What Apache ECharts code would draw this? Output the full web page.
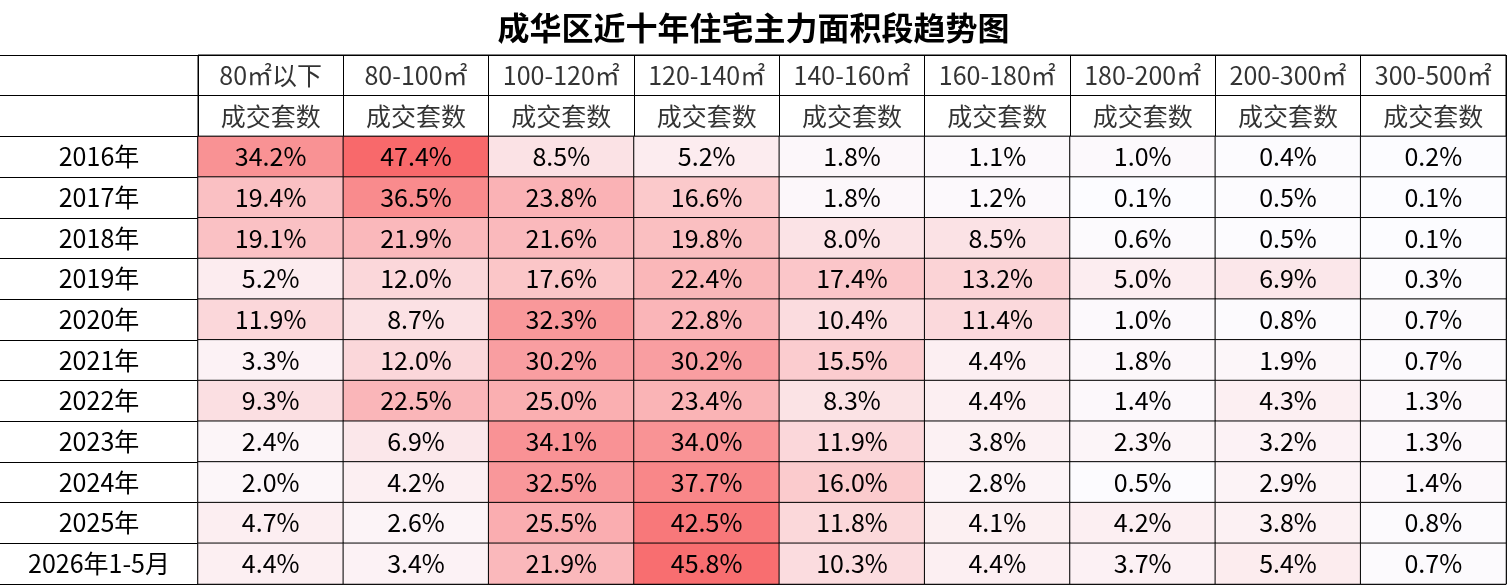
<!DOCTYPE html>
<html>
<head>
<meta charset="utf-8">
<script src="https://cdn.jsdelivr.net/npm/echarts@6/dist/echarts.min.js"></script>
<style>html,body{margin:0;padding:0;background:#fff}#main{width:1507px;height:585px}</style>
</head>
<body>
<div id="main"></div>
<script>
// 面积段
var ranges = ['80㎡以下', '80-100㎡', '100-120㎡', '120-140㎡', '140-160㎡', '160-180㎡', '180-200㎡', '200-300㎡', '300-500㎡'];
var subHead = '成交套数';
var years = ['2016年', '2017年', '2018年', '2019年', '2020年', '2021年', '2022年', '2023年', '2024年', '2025年', '2026年1-5月'];
// 每行对应一个年份
var values = [
    [34.2, 47.4, 8.5, 5.2, 1.8, 1.1, 1.0, 0.4, 0.2],
    [19.4, 36.5, 23.8, 16.6, 1.8, 1.2, 0.1, 0.5, 0.1],
    [19.1, 21.9, 21.6, 19.8, 8.0, 8.5, 0.6, 0.5, 0.1],
    [5.2, 12.0, 17.6, 22.4, 17.4, 13.2, 5.0, 6.9, 0.3],
    [11.9, 8.7, 32.3, 22.8, 10.4, 11.4, 1.0, 0.8, 0.7],
    [3.3, 12.0, 30.2, 30.2, 15.5, 4.4, 1.8, 1.9, 0.7],
    [9.3, 22.5, 25.0, 23.4, 8.3, 4.4, 1.4, 4.3, 1.3],
    [2.4, 6.9, 34.1, 34.0, 11.9, 3.8, 2.3, 3.2, 1.3],
    [2.0, 4.2, 32.5, 37.7, 16.0, 2.8, 0.5, 2.9, 1.4],
    [4.7, 2.6, 25.5, 42.5, 11.8, 4.1, 4.2, 3.8, 0.8],
    [4.4, 3.4, 21.9, 45.8, 10.3, 4.4, 3.7, 5.4, 0.7]
];

var rows = ['h1', 'h2'].concat(years);
var cells = [];
values.forEach(function (row, i) {
    row.forEach(function (v, j) {
        cells.push([j, years[i], v]);
    });
});
var head1 = ranges.map(function (r, j) { return [j, 'h1', r]; });
var head2 = ranges.map(function (r, j) { return [j, 'h2', subHead]; });

var font = '"Noto Sans CJK SC", sans-serif';
var chart = echarts.init(document.getElementById('main'));
chart.setOption({
    animation: false,
    textStyle: { fontFamily: font },
    title: {
        text: '成华区近十年住宅主力面积段趋势图',
        left: 'center',
        top: 7,
        textStyle: { fontSize: 32, fontWeight: 'bold', color: '#000', fontFamily: font }
    },
    grid: { left: 198, right: 1, top: 55, bottom: 1, show: true, borderColor: '#000', borderWidth: 1 },
    xAxis: {
        type: 'category',
        data: ranges,
        position: 'top',
        axisLabel: { show: false },
        axisTick: { show: false },
        axisLine: { show: false },
        splitLine: { show: true, lineStyle: { color: '#000', width: 1 } }
    },
    yAxis: {
        type: 'category',
        data: rows,
        inverse: true,
        axisLabel: {
            margin: 99,
            align: 'center',
            fontSize: 25,
            color: '#000',
            formatter: function (v) { return v.charAt(0) === 'h' ? '' : v; }
        },
        axisTick: { show: true, length: 198, lineStyle: { color: '#000' } },
        axisLine: { show: false },
        splitLine: { show: true, lineStyle: { color: '#000', width: 1 } }
    },
    visualMap: {
        show: false,
        seriesIndex: 0,
        min: 0.1,
        max: 47.4,
        inRange: { color: ['#fcfcff', '#f8696b'] }
    },
    series: [{
        type: 'heatmap',
        data: cells,
        itemStyle: { borderColor: '#000', borderWidth: 1 },
        label: {
            show: true,
            fontSize: 25,
            color: '#000',
            formatter: function (p) { return p.value[2].toFixed(1) + '%'; }
        }
    }, {
        type: 'scatter',
        symbolSize: 0,
        data: head1.concat(head2),
        silent: true,
        label: {
            show: true,
            position: 'inside',
            fontSize: 25,
            color: '#000',
            formatter: function (p) { return p.value[2]; }
        }
    }]
});
</script>
</body>
</html>
